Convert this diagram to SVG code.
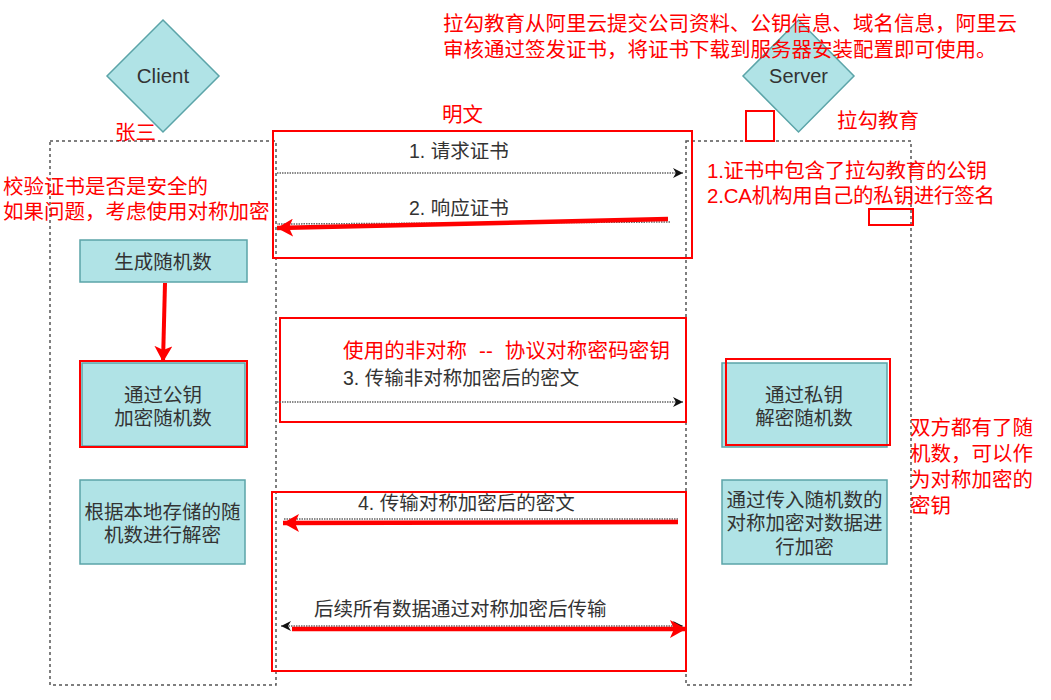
<svg xmlns="http://www.w3.org/2000/svg" width="1051" height="700" viewBox="0 0 1051 700">
<style>
.lane{fill:none;stroke:#555;stroke-width:1.5;stroke-dasharray:3 3}
.teal{fill:#b0e3e6;stroke:#5ba4a8;stroke-width:1.5}
.rbox{fill:none;stroke:#ff0000;stroke-width:2}
.t{font-family:"Liberation Sans","Noto Sans CJK SC",sans-serif;font-size:19.5px;fill:#333}
.tc{font-family:"Liberation Sans","Noto Sans CJK SC",sans-serif;font-size:19.5px;fill:#333;text-anchor:middle}
.r{font-family:"Liberation Sans","Noto Sans CJK SC",sans-serif;font-size:20.5px;fill:#ff0000}
.dot{fill:none;stroke:#666;stroke-width:1.5;stroke-dasharray:1.5 1}
.red{fill:none;stroke:#ff0000;stroke-width:4.5}
</style>
<defs>
<marker id="blk" viewBox="0 0 10 10" refX="10" refY="5" markerWidth="10" markerHeight="10" markerUnits="userSpaceOnUse" orient="auto-start-reverse">
<path d="M0,0 L10,5 L0,10 L3,5 Z" fill="#111"/>
</marker>
<marker id="rh" viewBox="0 0 16 18" refX="16" refY="9" markerWidth="16" markerHeight="18" markerUnits="userSpaceOnUse" orient="auto">
<path d="M0,0 L16,9 L0,18 L4,9 Z" fill="#ff0000"/>
</marker>
</defs>

<g id="client">
<polygon points="163,20 219,76 163,132 107,76" class="teal"/>
<text x="163" y="83" class="tc" style="font-size:20.5px">Client</text>
</g>
<g id="server">
<polygon points="798.5,20 854,76 798.5,132 743,76" class="teal"/>
<text x="798.5" y="83" class="tc" style="font-size:20px">Server</text>
</g>
<g id="client-lane"><rect x="50" y="141" width="226" height="544" class="lane"/></g>
<g id="server-lane"><rect x="686" y="141" width="225" height="544" class="lane"/></g>

<g id="gen-random">
<rect x="80" y="240" width="167" height="42" class="teal"/>
<text x="163" y="269" class="tc">生成随机数</text>
</g>
<g id="encrypt-pub">
<rect x="82" y="363" width="163" height="83" class="teal"/>
<rect x="80" y="361" width="167" height="86" class="rbox"/>
<text x="163" y="402" class="tc">通过公钥</text>
<text x="163" y="425" class="tc">加密随机数</text>
</g>
<g id="decrypt-local">
<rect x="80" y="480" width="165" height="84" class="teal"/>
<text x="162.5" y="519" class="tc">根据本地存储的随</text>
<text x="162.5" y="542" class="tc">机数进行解密</text>
</g>
<g id="decrypt-priv">
<rect x="722" y="363" width="165" height="84" class="teal"/>
<rect x="726" y="359" width="164" height="86" class="rbox"/>
<text x="804" y="402" class="tc">通过私钥</text>
<text x="804" y="425" class="tc">解密随机数</text>
</g>
<g id="encrypt-sym">
<rect x="722" y="480" width="165" height="84" class="teal"/>
<text x="804.5" y="507" class="tc">通过传入随机数的</text>
<text x="804.5" y="530" class="tc">对称加密对数据进</text>
<text x="804.5" y="554" class="tc">行加密</text>
</g>

<g id="frames">
<rect x="273" y="131" width="419" height="127" class="rbox"/>
<rect x="280" y="318" width="406" height="104" class="rbox"/>
<rect x="272" y="492" width="414" height="179" class="rbox"/>
<rect x="746" y="111" width="28" height="30" class="rbox"/>
<rect x="869" y="209" width="44" height="16" class="rbox"/>
</g>

<g id="connectors">
<line x1="277" y1="173" x2="683" y2="173" class="dot" marker-end="url(#blk)"/>
<line x1="670" y1="222" x2="277" y2="224" class="dot"/>
<line x1="668" y1="219" x2="277" y2="228" class="red" marker-end="url(#rh)"/>
<line x1="165" y1="283" x2="163" y2="362" class="red" style="stroke-width:4" marker-end="url(#rh)"/>
<line x1="277" y1="402" x2="683" y2="402" class="dot" marker-end="url(#blk)"/>
<line x1="678" y1="519" x2="284" y2="519" class="dot"/>
<line x1="678" y1="522" x2="283" y2="523" class="red" marker-end="url(#rh)"/>
<line x1="281" y1="626" x2="683" y2="626" class="dot" marker-start="url(#blk)" marker-end="url(#blk)"/>
<line x1="292" y1="629" x2="686" y2="629" class="red" marker-end="url(#rh)"/>
</g>

<g id="labels">
<text x="409" y="158" class="t">1. 请求证书</text>
<text x="409" y="215" class="t">2. 响应证书</text>
<text x="343" y="385" class="t">3. 传输非对称加密后的密文</text>
<text x="358" y="510" class="t">4. 传输对称加密后的密文</text>
<text x="314" y="616" class="t">后续所有数据通过对称加密后传输</text>
</g>

<g id="notes">
<text x="443" y="31" class="r">拉勾教育从阿里云提交公司资料、公钥信息、域名信息，阿里云</text>
<text x="443" y="57" class="r">审核通过签发证书，将证书下载到服务器安装配置即可使用。</text>
<text x="115" y="140" class="r">张三</text>
<text x="442" y="122" class="r">明文</text>
<text x="837" y="128" class="r">拉勾教育</text>
<text x="707" y="178" class="r" textLength="280">1.证书中包含了拉勾教育的公钥</text>
<text x="707" y="203" class="r" textLength="288">2.CA机构用自己的私钥进行签名</text>
<text x="3" y="194" class="r">校验证书是否是安全的</text>
<text x="3" y="219" class="r">如果问题，考虑使用对称加密</text>
<text x="343" y="358" class="r" xml:space="preserve" textLength="327">使用的非对称  --  协议对称密码密钥</text>
<text x="910" y="435" class="r">双方都有了随</text>
<text x="910" y="461" class="r">机数，可以作</text>
<text x="910" y="487" class="r">为对称加密的</text>
<text x="910" y="513" class="r">密钥</text>
</g>
</svg>
